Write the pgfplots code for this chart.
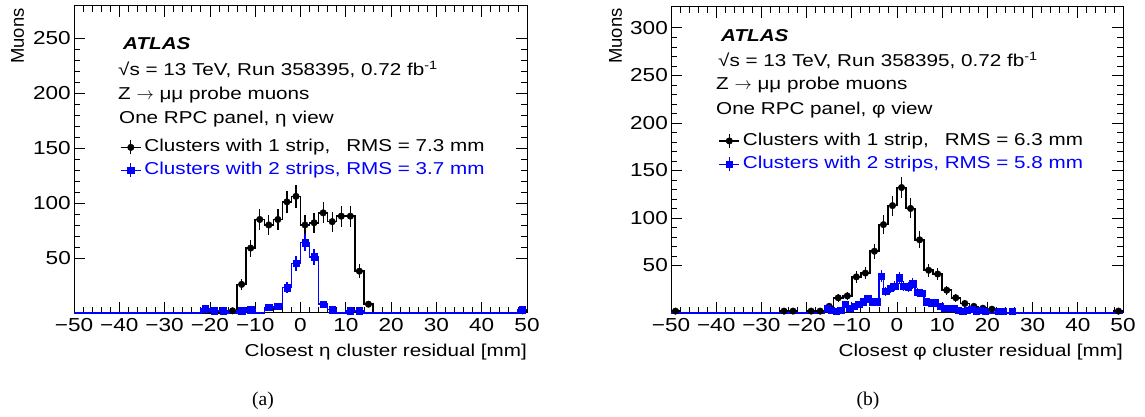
\documentclass[border=0pt]{standalone}
\usepackage{fontspec}
\setmainfont{Liberation Sans}[FakeStretch=1.2]
\newfontfamily\plainsans{Liberation Sans}
\newfontfamily\capserif{Liberation Serif}
\usepackage{pgfplots}
\usepackage{pgfplotstable}
\pgfplotsset{compat=1.18}

\newcommand\txt{\fontsize{17.2}{20}\selectfont}

% ---- eta view: 1-strip clusters (step edges, then points with sqrt(N) errors)
\pgfplotstableread{
x y
-50 0
-16 2
-14 26
-12 59
-10 85
-8 80
-6 85
-4 101
-2 106
0 80
2 82
4 91
6 83
8 88
10 88
12 38
14 8
16 0
48 2
50 2
}\etaOneStep
\pgfplotstableread{
x y e
-15 2 1.4
-13 26 5.1
-11 59 7.7
-9 85 9.2
-7 80 8.9
-5 85 9.2
-3 101 10.0
-1 106 10.3
1 80 8.9
3 82 9.1
5 91 9.5
7 83 9.1
9 88 9.4
11 88 9.4
13 38 6.2
15 8 2.8
49 2 1.4
}\etaOnePts
% ---- eta view: 2-strip clusters
\pgfplotstableread{
x y
-50 0
-22 4
-20 2
-18 2
-16 0
-14 2
-12 3
-10 0
-8 5
-6 6
-4 23
-2 45
0 64
2 51
4 8
6 3
8 0
10 2
12 2
14 0
48 3
50 3
}\etaTwoStep
\pgfplotstableread{
x y e
-21 4 2.0
-19 2 1.4
-17 2 1.4
-13 2 1.4
-11 3 1.7
-7 5 2.2
-5 6 2.4
-3 23 4.8
-1 45 6.7
1 64 8.0
3 51 7.1
5 8 2.8
7 3 1.7
11 2 1.4
13 2 1.4
49 3 1.7
}\etaTwoPts
% ---- phi view: 1-strip clusters
\pgfplotstableread{
x y
-50 2
-48 0
-26 2
-24 2
-22 0
-20 2
-18 2
-16 7
-14 16
-12 18
-10 38
-8 42
-6 65
-4 93
-2 113
0 132
2 110
4 77
6 45
8 41
10 24
12 16
14 10
16 7
18 5
20 4
22 0
48 2
50 2
}\phiOneStep
\pgfplotstableread{
x y e
-49 2 1.4
-25 2 1.4
-23 2 1.4
-19 2 1.4
-17 2 1.4
-15 7 2.6
-13 16 4.0
-11 18 4.2
-9 38 6.2
-7 42 6.5
-5 65 8.1
-3 93 9.6
-1 113 10.6
1 132 11.5
3 110 10.5
5 77 8.8
7 45 6.7
9 41 6.4
11 24 4.9
13 16 4.0
15 10 3.2
17 7 2.6
19 5 2.2
21 4 2.0
49 2 1.4
}\phiOnePts
% ---- phi view: 2-strip clusters (1 mm bins)
\pgfplotstableread{
x y
-50 0
-16 5
-15 3
-14 2
-13 3
-12 9
-11 5
-10 7
-9 9
-8 12
-7 15
-6 12
-5 12
-4 39
-3 23
-2 26
-1 28
0 37
1 28
2 27
3 31
4 22
5 21
6 12
7 11
8 11
9 7
10 5
11 5
12 5
13 3
14 2
15 3
16 4
17 2
18 3
19 2
20 0
22 2
23 2
24 0
25 2
26 0
50 0
}\phiTwoStep
\pgfplotstableread{
x y e
-15.5 5 2.2
-14.5 3 1.7
-13.5 2 1.4
-12.5 3 1.7
-11.5 9 3.0
-10.5 5 2.2
-9.5 7 2.6
-8.5 9 3.0
-7.5 12 3.5
-6.5 15 3.9
-5.5 12 3.5
-4.5 12 3.5
-3.5 39 6.2
-2.5 23 4.8
-1.5 26 5.1
-0.5 28 5.3
0.5 37 6.1
1.5 28 5.3
2.5 27 5.2
3.5 31 5.6
4.5 22 4.7
5.5 21 4.6
6.5 12 3.5
7.5 11 3.3
8.5 11 3.3
9.5 7 2.6
10.5 5 2.2
11.5 5 2.2
12.5 5 2.2
13.5 3 1.7
14.5 2 1.4
15.5 3 1.7
16.5 4 2.0
17.5 2 1.4
18.5 3 1.7
19.5 2 1.4
22.5 2 1.4
23.5 2 1.4
25.5 2 1.4
}\phiTwoPts

\pgfplotsset{
  atlas/.style={
    scale only axis, clip=false, anchor=south west,
    xmin=-50, xmax=50, ymin=0,
    xtick={-50,-40,...,50},
    xticklabels={−50,−40,−30,−20,−10,0,10,20,30,40,50},
    minor x tick num=4, minor y tick num=4,
    major tick length=11pt, minor tick length=6pt,
    tick style={line width=0.8pt, black},
    axis line style={line width=1pt},
    /pgf/number format/assume math mode=true,
    ticklabel style={font=\fontsize{18.8}{20}\selectfont},
    xticklabel style={inner sep=0pt, anchor=north, yshift=-5pt},
    yticklabel style={inner sep=0pt, anchor=east, xshift=-3pt},
    legend cell align=left,
    legend image code/.code={
      \draw[#1, line width=1.3pt] (0pt,0pt) -- (20pt,0pt);
      \draw[#1, line width=1.3pt] (10pt,-7pt) -- (10pt,7pt);
      \draw[#1] plot coordinates {(10pt,0pt)};
    },
  },
  step1/.style={const plot, black, line width=1.5pt, forget plot},
  step2/.style={const plot, blue, line width=1.5pt, forget plot},
  pts1/.style={black, only marks, mark=*, mark size=3.3pt,
    error bars/.cd, y dir=both, y explicit, error mark=none,
    error bar style={line width=1.3pt}},
  pts2/.style={blue, only marks, mark=square*, mark size=3.2pt,
    error bars/.cd, y dir=both, y explicit, error mark=none,
    error bar style={line width=1.3pt}},
}

\begin{document}
\begin{tikzpicture}[x=1pt,y=1pt]
\useasboundingbox (0,0) rectangle (1145,417);

% (a) eta view
\begin{axis}[atlas, at={(74pt,104pt)}, width=453pt, height=307pt,
    ymax=279, ytick={50,100,...,250},
    legend style={at={(rel axis cs:0.1015,0.571)}, anchor=north west,
      draw=none, fill=none, inner sep=0pt, row sep=3.8pt, column sep=3pt,
      font=\txt, nodes={inner sep=0pt, text height=14pt, text depth=5pt}}]
\addplot[step1] table[x=x,y=y] {\etaOneStep};
\addplot[pts1] table[x=x,y=y,y error=e] {\etaOnePts};
\addlegendentry{Clusters with 1 strip,\hphantom{s} RMS = 7.3 mm}
\addplot[step2] table[x=x,y=y] {\etaTwoStep};
\addplot[pts2] table[x=x,y=y,y error=e] {\etaTwoPts};
\addlegendentry{\textcolor{blue}{Clusters with 2 strips, RMS = 3.7 mm}}
\end{axis}

% (b) phi view
\begin{axis}[atlas, at={(671pt,104pt)}, width=452pt, height=306pt,
    ymax=322, ytick={50,100,...,300},
    legend style={at={(rel axis cs:0.105,0.594)}, anchor=north west,
      draw=none, fill=none, inner sep=0pt, row sep=4.5pt, column sep=3pt,
      font=\txt, nodes={inner sep=0pt, text height=14pt, text depth=5pt}}]
\addplot[step1] table[x=x,y=y] {\phiOneStep};
\addplot[pts1] table[x=x,y=y,y error=e] {\phiOnePts};
\addlegendentry{Clusters with 1 strip,\hphantom{s} RMS = 6.3 mm}
\addplot[step2] table[x=x,y=y] {\phiTwoStep};
\addplot[pts2] table[x=x,y=y,y error=e] {\phiTwoPts};
\addlegendentry{\textcolor{blue}{Clusters with 2 strips, RMS = 5.8 mm}}
\end{axis}

% panel texts
\begin{scope}[every node/.style={inner sep=0pt, anchor=base west, font=\txt}]
\node[font=\txt\bfseries\itshape] at (123,367.5) {ATLAS};
\node at (118,341) {√s = 13 TeV, Run 358395, 0.72 fb\textsuperscript{-1}};
\node at (118,317.7) {Z $\rightarrow$ μμ probe muons};
\node at (119,293.7) {One RPC panel, η view};
\node[font=\txt\bfseries\itshape] at (721,375) {ATLAS};
\node at (718,350.3) {√s = 13 TeV, Run 358395, 0.72 fb\textsuperscript{-1}};
\node at (716,327) {Z $\rightarrow$ μμ probe muons};
\node at (716,302) {One RPC panel, φ view};
\node[anchor=base east] at (527,60) {Closest η cluster residual [mm]};
\node[anchor=base east] at (1123,60) {Closest φ cluster residual [mm]};
\end{scope}
\node[rotate=90, anchor=east, inner sep=0pt, font=\plainsans\fontsize{18.5}{20}\selectfont] at (17.5,409) {Muons};
\node[rotate=90, anchor=east, inner sep=0pt, font=\plainsans\fontsize{18.5}{20}\selectfont] at (615.5,409) {Muons};
\node[font=\capserif\fontsize{19.5}{22}\selectfont] at (263,16) {(a)};
\node[font=\capserif\fontsize{19.5}{22}\selectfont] at (868,16) {(b)};
\end{tikzpicture}
\end{document}
